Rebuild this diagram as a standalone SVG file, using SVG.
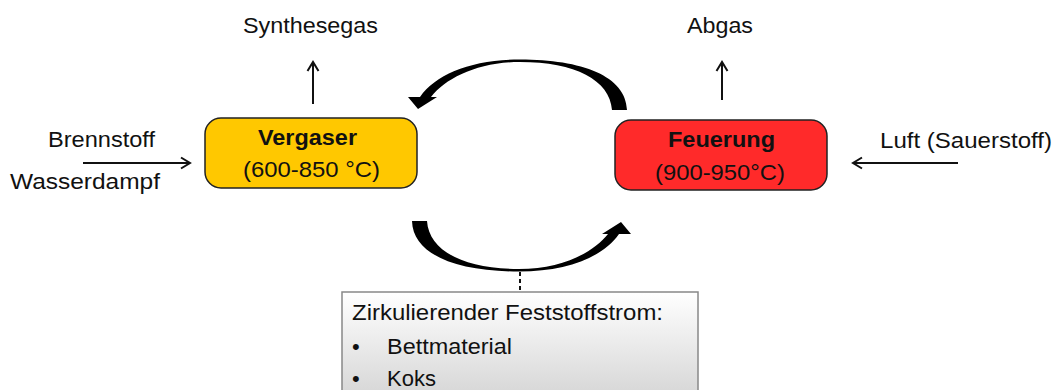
<svg xmlns="http://www.w3.org/2000/svg" width="1054" height="390" viewBox="0 0 1054 390">
<defs>
<style>
text{font-family:"Liberation Sans",Arial,sans-serif;font-size:22px;fill:#111}
.b{font-weight:bold}
.ln{stroke:#111;stroke-width:2;fill:none}
.node{stroke:#222;stroke-width:1.5}
.cyc{fill:#000}
</style>
<marker id="ah" markerWidth="14" markerHeight="14" refX="11" refY="7" orient="auto" markerUnits="userSpaceOnUse">
<polyline points="2,1.5 11,7 2,12.5" fill="none" stroke="#111" stroke-width="2"/>
</marker>
<linearGradient id="gbox" x1="0" y1="0" x2="0" y2="1">
<stop offset="0" stop-color="#ffffff"/>
<stop offset="1" stop-color="#d4d4d4"/>
</linearGradient>
</defs>
<g id="connectors">
<line class="ln" x1="313" y1="104" x2="313" y2="62" marker-end="url(#ah)"/>
<line class="ln" x1="722" y1="100" x2="722" y2="62" marker-end="url(#ah)"/>
<line class="ln" x1="83" y1="163" x2="190" y2="163" marker-end="url(#ah)"/>
<line class="ln" x1="958" y1="163" x2="853" y2="163" marker-end="url(#ah)"/>
<path id="arcTop" class="cyc" d="M612,110 C610,80 575,62 520,62 C478,62 446,78 431,97 L437,97 L418,109 L408,97 L420,97 C436,74 472,59.5 520,59.5 C582,59.5 626,76 627,110 Z"/>
<path id="arcBottom" class="cyc" d="M612,110 C610,80 575,62 520,62 C478,62 446,78 431,97 L437,97 L418,109 L408,97 L420,97 C436,74 472,59.5 520,59.5 C582,59.5 626,76 627,110 Z" transform="rotate(180 519.5 165.5)"/>
<line x1="520" y1="272" x2="520" y2="292" stroke="#111" stroke-width="2" stroke-dasharray="4,3"/>
</g>
<g id="synthesegas"><text x="243" y="33" textLength="135" lengthAdjust="spacingAndGlyphs">Synthesegas</text></g>
<g id="abgas"><text x="687" y="33" textLength="66" lengthAdjust="spacingAndGlyphs">Abgas</text></g>
<g id="brennstoff"><text x="48" y="147" textLength="107" lengthAdjust="spacingAndGlyphs">Brennstoff</text></g>
<g id="wasserdampf"><text x="10" y="189" textLength="150" lengthAdjust="spacingAndGlyphs">Wasserdampf</text></g>
<g id="luft"><text x="880" y="148" textLength="172" lengthAdjust="spacingAndGlyphs">Luft (Sauerstoff)</text></g>
<g id="vergaser">
<rect class="node" x="205" y="118" width="212" height="70" rx="16" fill="#ffc800"/>
<text class="b" x="258" y="145" textLength="99" lengthAdjust="spacingAndGlyphs">Vergaser</text>
<text x="243" y="177" textLength="137" lengthAdjust="spacingAndGlyphs">(600-850  °C)</text>
</g>
<g id="feuerung">
<rect class="node" x="615" y="120" width="212" height="70" rx="16" fill="#ff2a2a"/>
<text class="b" x="668" y="147" textLength="107" lengthAdjust="spacingAndGlyphs">Feuerung</text>
<text x="655" y="180" textLength="130" lengthAdjust="spacingAndGlyphs">(900-950°C)</text>
</g>
<g id="feststoffstrom">
<rect x="342" y="292" width="356" height="110" fill="url(#gbox)" stroke="#888" stroke-width="1.5"/>
<text x="352" y="320" textLength="311" lengthAdjust="spacingAndGlyphs">Zirkulierender  Feststoffstrom:</text>
<text x="352" y="354">•</text>
<text x="387" y="354" textLength="125" lengthAdjust="spacingAndGlyphs">Bettmaterial</text>
<text x="352" y="386">•</text>
<text x="387" y="386">Koks</text>
</g>
</svg>
